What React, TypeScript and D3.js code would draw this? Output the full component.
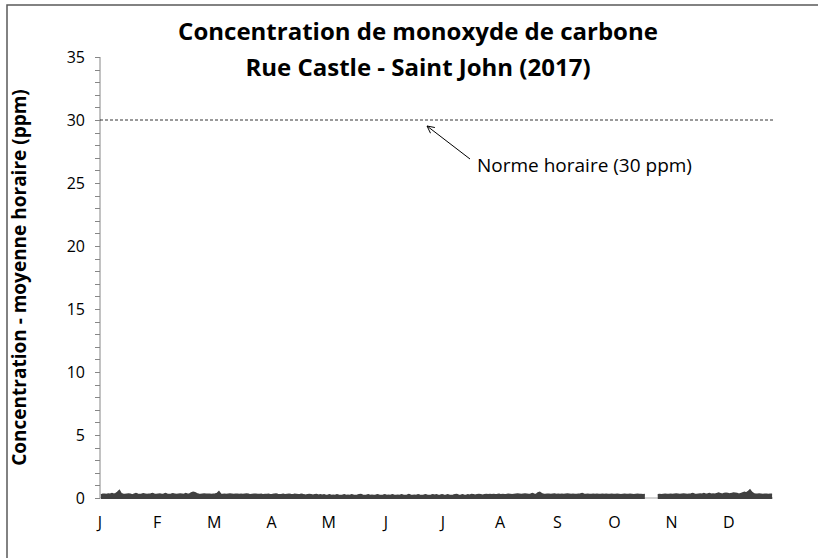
import React from 'react'
import * as d3 from 'd3'

// daily maximum of hourly CO (ppm); null = no data
const jan = [0.25,0.3,0.3,0.28,0.32,0.3,0.35,0.3,0.35,0.45,0.6,0.35,0.3,0.28,0.3,0.32,0.3,0.25,0.3,0.35,0.3,0.28,0.3,0.33,0.3,0.27,0.3,0.32,0.35,0.3,0.28]
const feb = [0.3,0.32,0.28,0.3,0.35,0.3,0.28,0.3,0.33,0.3,0.27,0.3,0.32,0.3,0.28,0.35,0.3,0.3,0.4,0.45,0.42,0.35,0.3,0.28,0.3,0.32,0.3,0.3]
const mar = [0.3,0.28,0.3,0.32,0.35,0.5,0.3,0.28,0.3,0.27,0.3,0.32,0.3,0.28,0.3,0.3,0.27,0.3,0.28,0.3,0.32,0.3,0.25,0.28,0.3,0.3,0.27,0.28,0.3,0.25,0.27]
const apr = [0.28,0.3,0.25,0.27,0.3,0.32,0.28,0.25,0.27,0.3,0.25,0.28,0.3,0.27,0.25,0.3,0.28,0.25,0.27,0.3,0.25,0.22,0.25,0.27,0.25,0.22,0.25,0.27,0.22,0.25]
const may = [0.22,0.25,0.2,0.22,0.25,0.2,0.22,0.2,0.25,0.22,0.2,0.22,0.25,0.2,0.22,0.2,0.25,0.22,0.2,0.22,0.25,0.27,0.22,0.2,0.22,0.25,0.2,0.22,0.2,0.22,0.25]
const jun = [0.22,0.2,0.22,0.25,0.2,0.22,0.2,0.25,0.22,0.2,0.22,0.2,0.25,0.22,0.2,0.22,0.27,0.22,0.2,0.22,0.2,0.25,0.22,0.2,0.22,0.25,0.22,0.2,0.22,0.25]
const jul = [0.22,0.25,0.2,0.22,0.25,0.22,0.2,0.25,0.22,0.2,0.22,0.25,0.27,0.22,0.2,0.25,0.22,0.2,0.25,0.22,0.27,0.25,0.22,0.25,0.27,0.25,0.22,0.25,0.28,0.25,0.27]
const aug = [0.25,0.28,0.25,0.27,0.3,0.25,0.28,0.25,0.27,0.3,0.28,0.25,0.28,0.3,0.32,0.3,0.28,0.3,0.32,0.3,0.28,0.3,0.35,0.3,0.28,0.4,0.45,0.35,0.3,0.28,0.3]
const sep = [0.3,0.28,0.3,0.32,0.28,0.3,0.27,0.3,0.28,0.3,0.32,0.3,0.28,0.3,0.27,0.28,0.3,0.32,0.35,0.3,0.28,0.3,0.27,0.28,0.3,0.28,0.3,0.27,0.28,0.3]
const oct = [0.28,0.3,0.27,0.28,0.3,0.28,0.27,0.3,0.28,0.25,0.28,0.3,0.27,0.28,0.3,0.28,0.25,0.28,0.3,0.27,0.28,0.25,0.27,null,null,null,null,null,null,0.25,0.27]
const nov = [0.25,0.28,0.3,0.27,0.28,0.3,0.28,0.3,0.32,0.3,0.28,0.3,0.32,0.3,0.28,0.3,0.32,0.35,0.3,0.28,0.3,0.32,0.3,0.35,0.3,0.32,0.35,0.3,0.32,0.3]
const dec = [0.35,0.4,0.35,0.3,0.35,0.38,0.35,0.32,0.35,0.4,0.38,0.35,0.3,0.35,0.4,0.45,0.4,0.5,0.65,0.45,0.35,0.3,0.3,0.32,0.3,0.28,0.3,0.3,0.28,0.3,0.3]

const monthLabels = ['J','F','M','A','M','J','J','A','S','O','N','D']
const yTicks = [0, 5, 10, 15, 20, 25, 30, 35]
const norme = 30

const titleLines = ['Concentration de monoxyde de carbone', 'Rue Castle - Saint John (2017)']
const yTitle = 'Concentration - moyenne horaire (ppm)'
const normeLabel = 'Norme horaire (30 ppm)'

export default function App() {
  const width = 818
  const height = 558
  const margin = {top: 57, right: 45, bottom: 60, left: 100}

  const daily = [jan, feb, mar, apr, may, jun, jul, aug, sep, oct, nov, dec].flat()
  const data = daily.map((v, i) => ({day: i + 0.5, value: v}))

  const x = d3.scaleLinear().domain([0, 365]).range([margin.left, width - margin.right])
  const y = d3.scaleLinear().domain([0, 35]).range([height - margin.bottom, margin.top])

  const area = d3.area<{day: number, value: number | null}>()
    .defined(d => d.value !== null)
    .x(d => x(d.day))
    .y0(y(0) + 1)
    .y1(d => y(d.value as number))
  const line = d3.line<{day: number, value: number | null}>()
    .defined(d => d.value !== null)
    .x(d => x(d.day))
    .y(d => y(d.value as number))

  const minor = d3.range(0, 36)
  const font = '"Open Sans", "Liberation Sans", sans-serif'
  const x0 = margin.left
  const x1 = width - margin.right

  return (
    <svg width={width} height={height} style={{position: 'absolute', left: 0, top: 0, background: '#fff'}} fontFamily={font}>
      <defs>
        <marker id="arr" viewBox="0 0 10 10" refX="9" refY="5" markerWidth="9" markerHeight="9" markerUnits="userSpaceOnUse" orient="auto">
          <path d="M1,1 L9,5 L1,9" fill="none" stroke="#000" strokeWidth="1" />
        </marker>
      </defs>
      <rect x={7} y={5} width={830} height={570} fill="none" stroke="#595959" strokeWidth={1.5} />

      {titleLines.map((t, i) => (
        <text key={i} x={418} y={40 + i * 36} textAnchor="middle" fontSize={24} fontWeight="bold">{t}</text>
      ))}

      <text transform={`translate(26,${(y(0) + y(35)) / 2}) rotate(-90)`} textAnchor="middle" fontSize={19} fontWeight="bold">{yTitle}</text>

      {/* y axis with minor ticks every 1 ppm */}
      <line x1={x0} x2={x0} y1={y(35)} y2={y(0)} stroke="#868686" />
      {minor.map(v => (
        <line key={v} x1={x0 - 5} x2={x0} y1={Math.round(y(v)) + 0.5} y2={Math.round(y(v)) + 0.5} stroke="#868686" />
      ))}
      {yTicks.map(v => (
        <text key={v} x={x0 - 15} y={y(v)} dy="0.35em" textAnchor="end" fontSize={16}>{v}</text>
      ))}

      {/* x axis */}
      <line x1={x0} x2={x1} y1={y(0)} y2={y(0)} stroke="#a6a6a6" />
      {monthLabels.map((m, i) => (
        <text key={i} x={x(i * 31)} y={y(0) + 30} textAnchor="middle" fontSize={16}>{m}</text>
      ))}

      {/* norme */}
      <line x1={x0} x2={x1} y1={y(norme)} y2={y(norme)} stroke="#000" strokeWidth={0.8} strokeDasharray="3,2" />
      <line x1={470} y1={159} x2={427} y2={126} stroke="#000" strokeWidth={1} markerEnd="url(#arr)" />
      <text x={477} y={172} fontSize={19}>{normeLabel}</text>

      <path d={area(data) || ''} fill="#404040" />
      <path d={line(data) || ''} fill="none" stroke="#404040" strokeWidth={1.5} />
    </svg>
  )
}
